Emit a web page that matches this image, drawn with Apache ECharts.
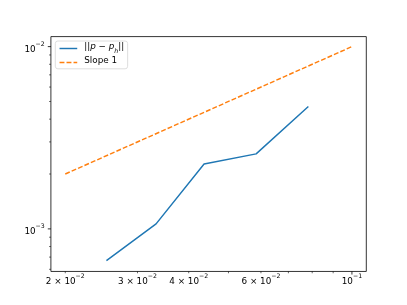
<!DOCTYPE html>
<html><head><meta charset="utf-8">
<script src="https://cdn.jsdelivr.net/npm/echarts@6/dist/echarts.min.js"></script>
<style>html,body{margin:0;padding:0;background:#fff}#c{width:407px;height:305px}</style>
</head><body><div id="c"></div>
<script>
// ---- data ----
const hValues = [0.0252, 0.0333, 0.0436, 0.0584, 0.0783];
const errValues = [0.00067, 0.001065, 0.00227, 0.00258, 0.00469];
const slopeX = [0.02, 0.1];
const slopeY = [0.002, 0.01];
const seriesNames = ['||p − p_h||', 'Slope 1'];
// ---- ticks ----
const xMajorTicks = [0.1];
const xMinorTicks = [0.02, 0.03, 0.04, 0.05, 0.06, 0.07, 0.08, 0.09];
const xLabelValues = [0.02, 0.03, 0.04, 0.06, 0.1];
const xLabelMantissa = ['2 × 10', '3 × 10', '4 × 10', '6 × 10', '10'];
const xLabelExponent = ['−2', '−2', '−2', '−2', '−1'];
const yMajorTicks = [0.001, 0.01];
const yMinorTicks = [0.0006, 0.0007, 0.0008, 0.0009, 0.002, 0.003, 0.004, 0.005, 0.006, 0.007, 0.008, 0.009];
const yLabelValues = [0.001, 0.01];
const yLabelMantissa = ['10', '10'];
const yLabelExponent = ['−3', '−2'];

const FONT = 'DejaVu Sans';
const G = {left: 50.9, right: 40.7, top: 36.6, bottom: 33.55};
const W = 407, H = 305;
const gridBottomY = H - G.bottom, gridLeftX = G.left;

const chart = echarts.init(document.getElementById('c'), null, {renderer: 'canvas'});
const richLabel = {
  b: {fontFamily: FONT, fontSize: 8.8, lineHeight: 13, verticalAlign: 'bottom', color: '#000'},
  s: {fontFamily: FONT, fontSize: 6.2, lineHeight: 7, verticalAlign: 'top', color: '#000'}
};
chart.setOption({
  animation: false,
  backgroundColor: '#fff',
  grid: {left: G.left, right: G.right, top: G.top, bottom: G.bottom, show: true,
         borderColor: '#000', borderWidth: 0.8, backgroundColor: 'transparent'},
  xAxis: {type: 'log', logBase: 10, min: 0.01845, max: 0.1084,
          axisLine: {show: false}, axisTick: {show: false}, axisLabel: {show: false},
          splitLine: {show: false}, minorTick: {show: false}},
  yAxis: {type: 'log', logBase: 10, min: 0.000584, max: 0.01135,
          axisLine: {show: false}, axisTick: {show: false}, axisLabel: {show: false},
          splitLine: {show: false}, minorTick: {show: false}},
  legend: {
    orient: 'vertical', left: 55.3, top: 41,
    padding: [1.5, 3.5, 1.5, 3.5], itemGap: 2, itemWidth: 17.7, itemHeight: 12,
    borderColor: '#d6d6d6', borderWidth: 0.8, borderRadius: 2.5, backgroundColor: '#fff',
    lineStyle: {width: 1.45},
    itemStyle: {opacity: 0, borderWidth: 0},
    data: seriesNames,
    formatter: function (name) {
      if (name === seriesNames[0]) return '{n|||}{i|p}{n| − }{i|p}{sub|h}{n|||}';
      return '{n|' + name + '}';
    },
    textStyle: {
      fontFamily: FONT, fontSize: 8.8, color: '#000', padding: [0, 0, 0, 2],
      rich: {
        n: {fontFamily: FONT, fontSize: 8.8, lineHeight: 12, verticalAlign: 'top', color: '#000'},
        i: {fontFamily: FONT, fontSize: 8.8, fontStyle: 'italic', lineHeight: 12, verticalAlign: 'top', color: '#000'},
        sub: {fontFamily: FONT, fontSize: 6.2, fontStyle: 'italic', lineHeight: 7, verticalAlign: 'bottom', color: '#000'}
      }
    }
  },
  series: [
    {name: seriesNames[0], type: 'line', symbol: 'none', color: '#1f77b4',
     lineStyle: {width: 1.45, color: '#1f77b4'},
     data: hValues.map((x, i) => [x, errValues[i]])},
    {name: seriesNames[1], type: 'line', symbol: 'none', color: '#ff7f0e',
     lineStyle: {width: 1.45, color: '#ff7f0e', type: [4.9, 2.1]},
     data: slopeX.map((x, i) => [x, slopeY[i]])}
  ]
});

const els = [];
function px(v) { return chart.convertToPixel({xAxisIndex: 0}, v); }
function py(v) { return chart.convertToPixel({yAxisIndex: 0}, v); }
xMajorTicks.forEach(v => { const x = px(v);
  els.push({type: 'line', shape: {x1: x, y1: gridBottomY, x2: x, y2: gridBottomY + 3.1}, style: {stroke: '#000', lineWidth: 0.8}}); });
xMinorTicks.forEach(v => { const x = px(v);
  els.push({type: 'line', shape: {x1: x, y1: gridBottomY, x2: x, y2: gridBottomY + 1.8}, style: {stroke: '#000', lineWidth: 0.6}}); });
yMajorTicks.forEach(v => { const y = py(v);
  els.push({type: 'line', shape: {x1: gridLeftX, y1: y, x2: gridLeftX - 3.1, y2: y}, style: {stroke: '#000', lineWidth: 0.8}}); });
yMinorTicks.forEach(v => { const y = py(v);
  els.push({type: 'line', shape: {x1: gridLeftX, y1: y, x2: gridLeftX - 1.8, y2: y}, style: {stroke: '#000', lineWidth: 0.6}}); });
xLabelValues.forEach((v, i) => {
  els.push({type: 'text', x: px(v), y: gridBottomY + 2,
    style: {text: '{b|' + xLabelMantissa[i] + '}{s|' + xLabelExponent[i] + '}', rich: richLabel,
            align: 'center', verticalAlign: 'top'}});
});
yLabelValues.forEach((v, i) => {
  els.push({type: 'text', x: gridLeftX - 6.2, y: py(v) - 5.5,
    style: {text: '{b|' + yLabelMantissa[i] + '}{s|' + yLabelExponent[i] + '}', rich: richLabel,
            align: 'right', verticalAlign: 'top'}});
});
chart.setOption({graphic: {elements: els}});
</script>
</body></html>
